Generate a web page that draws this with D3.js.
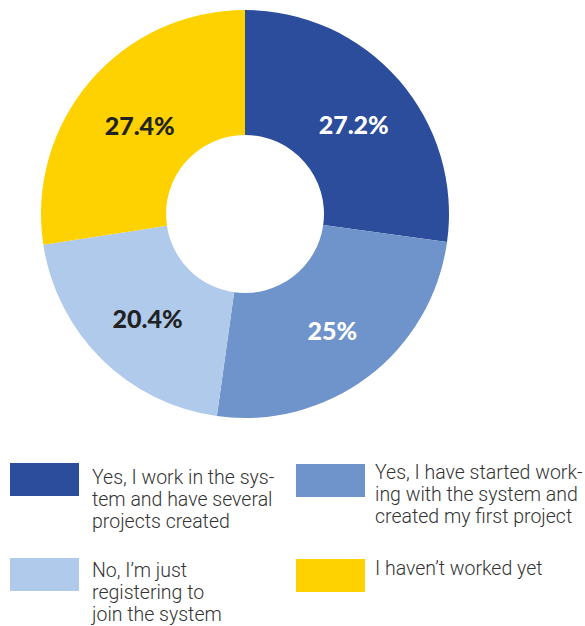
<!DOCTYPE html>
<html><head><meta charset="utf-8">
<script src="https://cdn.jsdelivr.net/npm/d3@7"></script>
<style>html,body{margin:0;padding:0;background:#fff;}svg{display:block;}</style>
</head><body>
<svg id="chart" width="585" height="626"></svg>
<script>
const categories = [
  "Yes, I work in the system and have several projects created",
  "Yes, I have started working with the system and created my first project",
  "No, I’m just registering to join the system",
  "I haven’t worked yet"
];
const values = [27.2, 25, 20.4, 27.4];
const valueLabels = ["27.2%", "25%", "20.4%", "27.4%"];
const colors = ["#2c4c9c", "#6f93cb", "#b0caec", "#fdd200"];
const labelColors = ["#ffffff", "#ffffff", "#222222", "#222222"];
const legendLines = [
  ["Yes, I work in the sys-", "tem and have several", "projects created"],
  ["Yes, I have started work-", "ing with the system and", "created my first project"],
  ["No, I’m just", "registering to", "join the system"],
  ["I haven’t worked yet"]
];

const svg = d3.select("#chart");
const cx = 245, cy = 214, rOuter = 204, rInner = 79;

const pie = d3.pie().sort(null).value(d => d);
const arcs = pie(values);
const arc = d3.arc().innerRadius(rInner).outerRadius(rOuter);

const g = svg.append("g").attr("transform", `translate(${cx},${cy})`);
g.selectAll("path").data(arcs).enter().append("path")
  .attr("d", arc).attr("fill", (d, i) => colors[i]);

g.selectAll("text.val").data(arcs).enter().append("text")
  .attr("class", "val")
  .attr("transform", d => { const c = arc.centroid(d); return `translate(${c[0] + 2},${c[1] + 4})`; })
  .attr("text-anchor", "middle").attr("dy", "0.36em")
  .attr("font-family", "Lato, sans-serif").attr("font-weight", 900)
  .attr("font-size", 25).attr("fill", (d, i) => labelColors[i])
  .text((d, i) => valueLabels[i]);

// legend
const legendPos = [
  {sx: 10, sy: 463, tx: 92, ty: 484},
  {sx: 296, sy: 464, tx: 375, ty: 479},
  {sx: 10, sy: 558, tx: 92, ty: 577},
  {sx: 296, sy: 559, tx: 375, ty: 575}
];
const lg = svg.append("g");
categories.forEach((c, i) => {
  const p = legendPos[i];
  lg.append("rect").attr("x", p.sx).attr("y", p.sy).attr("width", 69).attr("height", 33).attr("fill", colors[i]);
  const t = lg.append("text").attr("x", p.tx).attr("y", p.ty)
    .attr("font-family", "Roboto, sans-serif").attr("font-weight", 300)
    .attr("font-size", 19.5).attr("fill", "#333");
  legendLines[i].forEach((line, j) => {
    t.append("tspan").attr("x", p.tx).attr("y", p.ty + j * 22).text(line);
  });
});
</script>
</body></html>
